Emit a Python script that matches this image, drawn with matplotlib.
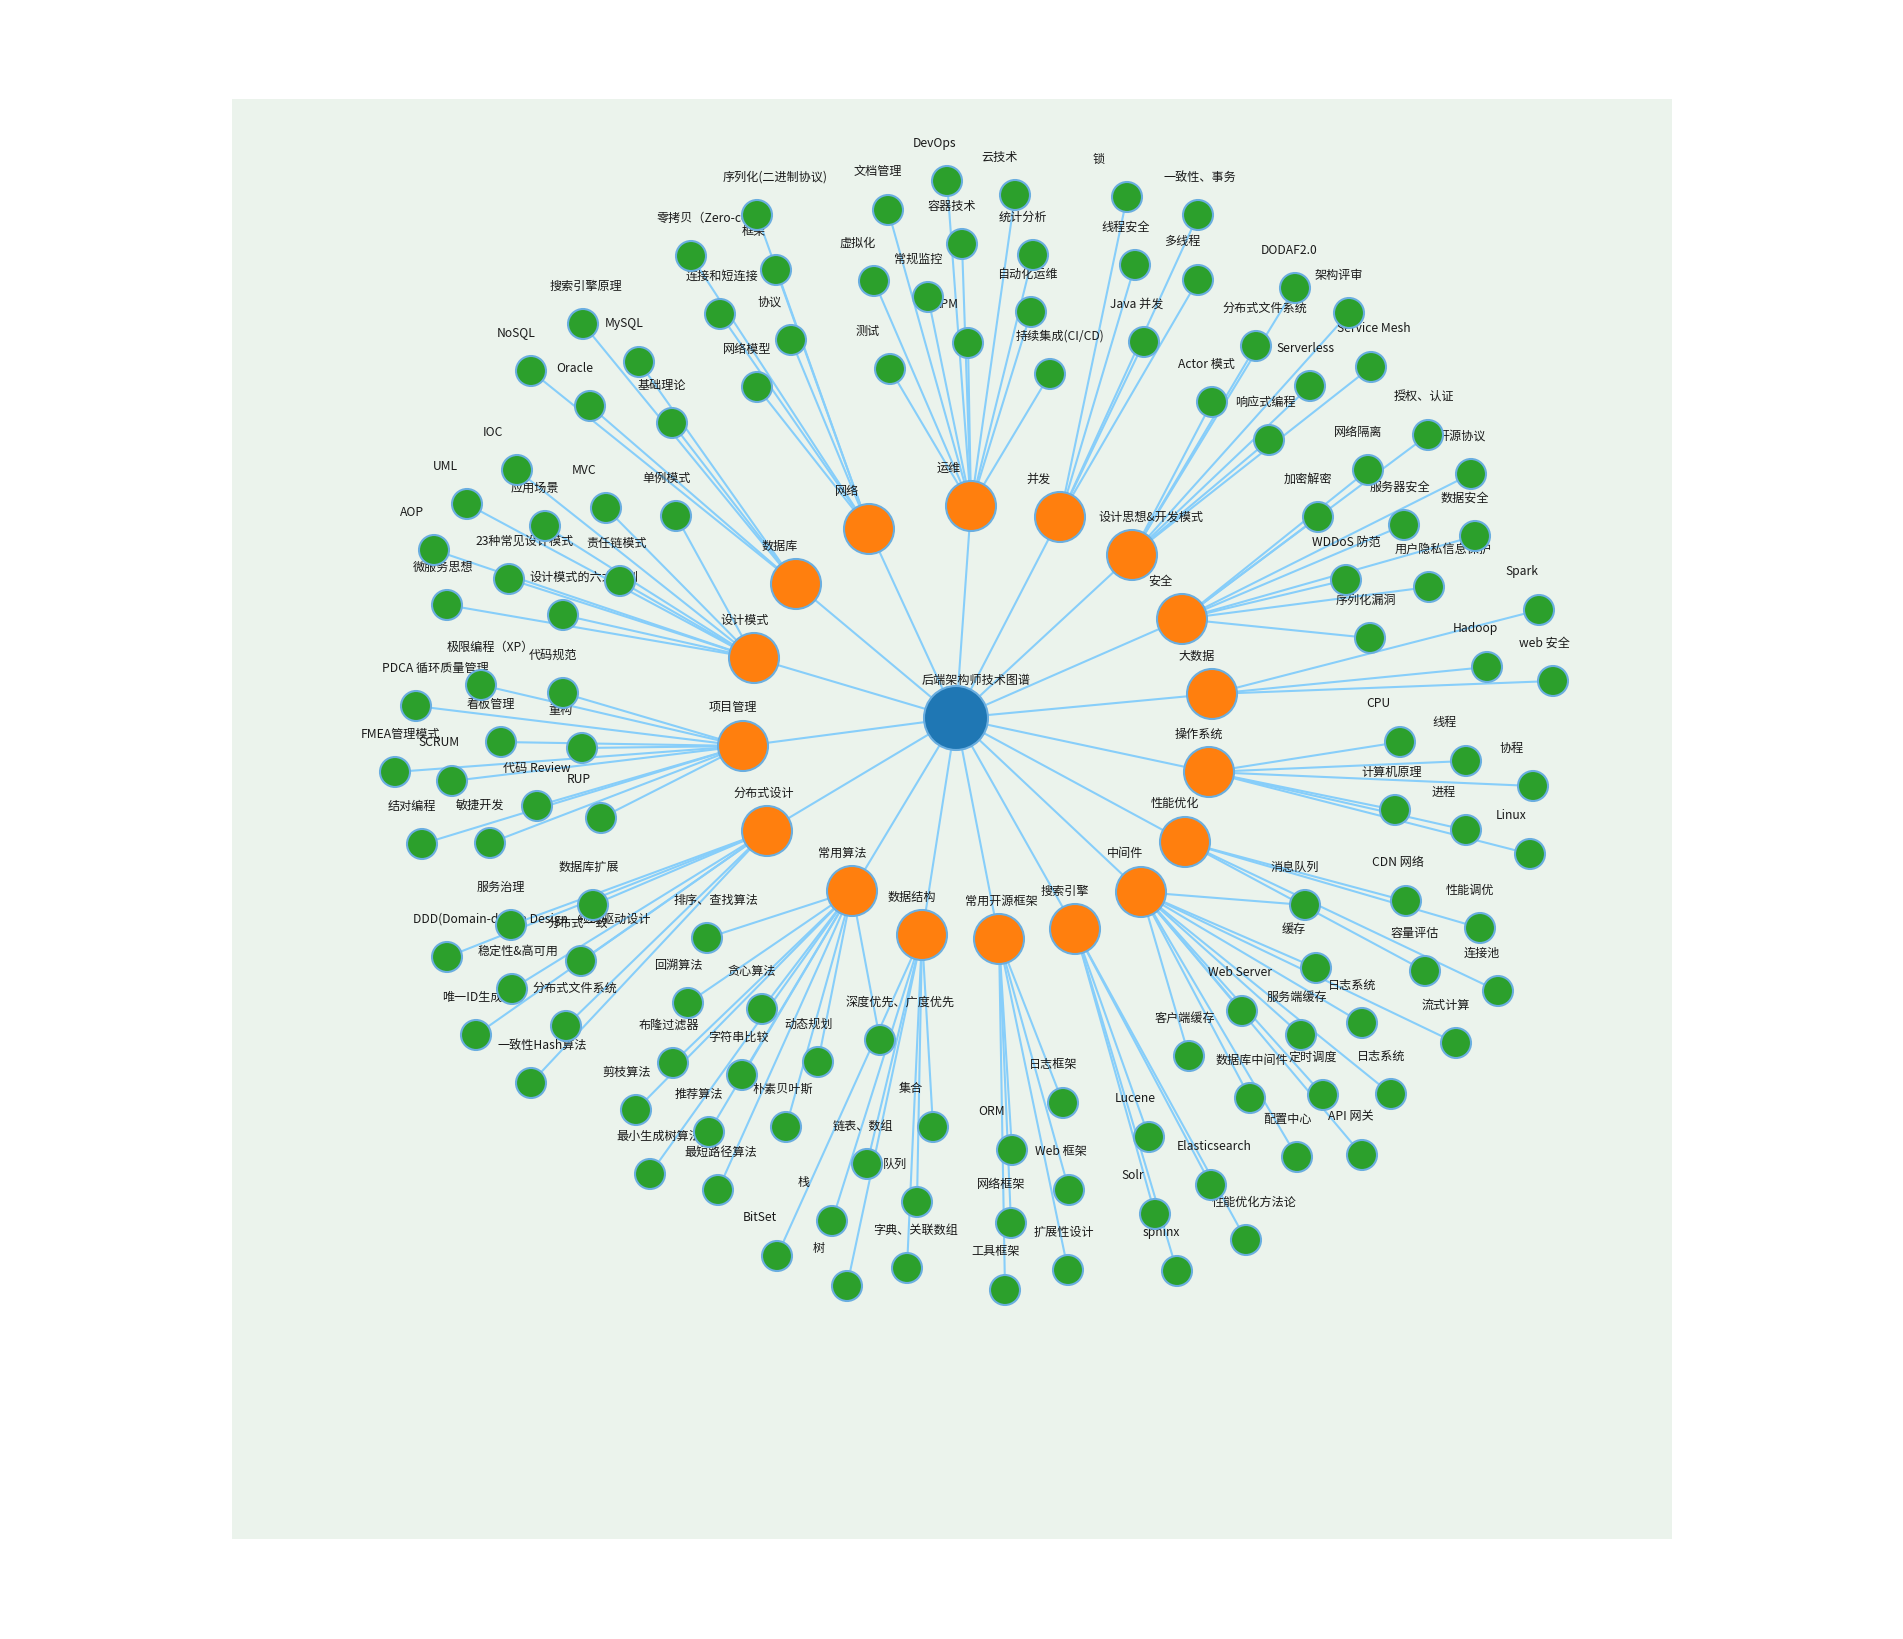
import matplotlib
matplotlib.use("Agg")
import matplotlib.pyplot as plt
from matplotlib.patches import Circle

plt.rcParams['font.family'] = ['Noto Sans CJK SC', 'DejaVu Sans']

# graph layout (pixel space of the picture)
ROOT = "后端架构师技术图谱"
ROOT_X, ROOT_Y = 956, 719

CATEGORIES = ["网络", "运维", "并发", "设计思想&开发模式", "安全", "大数据", "操作系统",
              "性能优化", "中间件", "搜索引擎", "常用开源框架", "数据结构", "常用算法",
              "分布式设计", "项目管理", "设计模式", "数据库"]
CAT_X = [869, 971, 1060, 1132, 1182, 1212, 1209, 1185, 1141, 1075, 999, 922, 852, 767, 743, 754, 796]
CAT_Y = [530, 507, 518, 556, 620, 695, 773, 843, 893, 930, 940, 936, 892, 832, 747, 659, 585]

LEAF_NAMES = [
    # 网络
    "序列化(二进制协议)", "零拷贝（Zero-copy）", "框架", "连接和短连接", "协议", "网络模型",
    # 数据库
    "搜索引擎原理", "MySQL", "NoSQL", "Oracle", "基础理论",
    # 设计模式
    "IOC", "UML", "MVC", "单例模式", "应用场景", "AOP", "23种常见设计模式", "责任链模式",
    "微服务思想", "设计模式的六大原则",
    # 项目管理
    "极限编程（XP）", "代码规范", "PDCA 循环质量管理", "看板管理", "重构", "FMEA管理模式",
    "SCRUM", "代码 Review", "RUP", "结对编程", "敏捷开发",
    # 分布式设计
    "数据库扩展", "服务治理", "DDD(Domain-driven Design - 领域驱动设计", "分布式一致",
    "稳定性&高可用", "唯一ID生成", "分布式文件系统", "一致性Hash算法",
    # 常用算法
    "排序、查找算法", "回溯算法", "贪心算法", "布隆过滤器", "字符串比较", "剪枝算法",
    "推荐算法", "朴素贝叶斯", "最小生成树算法", "最短路径算法", "动态规划", "深度优先、广度优先",
    # 数据结构
    "集合", "链表、数组", "队列", "栈", "树", "字典、关联数组", "BitSet",
    # 常用开源框架
    "日志框架", "ORM", "Web 框架", "网络框架", "扩展性设计", "工具框架",
    # 搜索引擎
    "Lucene", "Solr", "sphinx", "Elasticsearch", "性能优化方法论",
    # 中间件
    "消息队列", "缓存", "Web Server", "客户端缓存", "服务端缓存", "日志系统", "数据库中间件",
    "定时调度", "日志系统", "配置中心", "API 网关", "流式计算",
    # 性能优化
    "CDN 网络", "性能调优", "容量评估", "连接池",
    # 操作系统
    "CPU", "线程", "协程", "计算机原理", "进程", "Linux",
    # 大数据
    "Spark", "Hadoop", "web 安全",
    # 安全
    "授权、认证", "网络隔离", "开源协议", "加密解密", "服务器安全", "数据安全", "WDDoS 防范",
    "用户隐私信息保护", "序列化漏洞",
    # 设计思想&开发模式
    "DODAF2.0", "架构评审", "分布式文件系统", "Service Mesh", "Serverless", "Actor 模式", "响应式编程",
    # 并发
    "锁", "一致性、事务", "线程安全", "多线程", "Java 并发",
    # 运维
    "DevOps", "云技术", "文档管理", "容器技术", "统计分析", "虚拟化", "常规监控", "自动化运维",
    "APM", "测试", "持续集成(CI/CD)",
]
LEAF_X = [
    757, 691, 776, 720, 791, 757,
    583, 639, 531, 590, 672,
    517, 467, 606, 676, 545, 434, 509, 620, 447, 563,
    481, 563, 416, 501, 582, 395, 452, 537, 601, 422, 490,
    593, 511, 447, 581, 512, 476, 566, 531,
    707, 688, 762, 673, 742, 636, 709, 786, 650, 718, 818, 880,
    933, 867, 917, 832, 847, 907, 777,
    1063, 1012, 1069, 1011, 1068, 1005,
    1149, 1155, 1177, 1211, 1246,
    1305, 1316, 1242, 1189, 1301, 1362, 1250, 1323, 1391, 1297, 1362, 1456,
    1406, 1480, 1425, 1498,
    1400, 1466, 1533, 1395, 1466, 1530,
    1539, 1487, 1553,
    1428, 1368, 1471, 1318, 1404, 1475, 1346, 1429, 1370,
    1295, 1349, 1256, 1371, 1310, 1212, 1269,
    1127, 1198, 1135, 1198, 1144,
    947, 1015, 888, 962, 1033, 874, 928, 1031, 968, 890, 1050,
]
LEAF_Y = [
    216, 257, 271, 315, 341, 388,
    325, 363, 372, 407, 424,
    471, 505, 509, 517, 527, 551, 580, 582, 606, 616,
    686, 694, 707, 743, 749, 773, 782, 807, 819, 845, 844,
    906, 926, 958, 962, 990, 1036, 1027, 1084,
    939, 1004, 1010, 1064, 1076, 1111, 1133, 1128, 1175, 1191, 1063, 1041,
    1128, 1165, 1203, 1222, 1287, 1269, 1257,
    1104, 1151, 1191, 1224, 1271, 1291,
    1138, 1215, 1272, 1186, 1241,
    906, 969, 1012, 1057, 1036, 1024, 1099, 1096, 1095, 1158, 1156, 1044,
    902, 929, 972, 992,
    743, 762, 787, 811, 831, 855,
    611, 668, 682,
    436, 471, 475, 518, 526, 537, 581, 588, 639,
    289, 314, 347, 368, 387, 403, 441,
    198, 216, 266, 281, 343,
    182, 196, 211, 245, 256, 282, 298, 313, 344, 370, 375,
]
LEAF_PARENT = (["网络"] * 6 + ["数据库"] * 5 + ["设计模式"] * 10 + ["项目管理"] * 11
               + ["分布式设计"] * 8 + ["常用算法"] * 12 + ["数据结构"] * 7
               + ["常用开源框架"] * 6 + ["搜索引擎"] * 5 + ["中间件"] * 12
               + ["性能优化"] * 4 + ["操作系统"] * 6 + ["大数据"] * 3 + ["安全"] * 9
               + ["设计思想&开发模式"] * 7 + ["并发"] * 5 + ["运维"] * 11)

BG = "#ebf3ec"
LINK = "#87cefa"
STROKE = "#6aaee0"


def draw_node(ax, x, y, r, color):
    ax.add_patch(Circle((x, y), r, facecolor=color, edgecolor=STROKE, lw=1.5, zorder=3))


def draw_label(ax, x, y, text):
    ax.text(x - 34, y - 39, text, ha="left", va="center", fontsize=8.7,
            color="#1a1a1a", zorder=2, clip_on=False)


fig = plt.figure(figsize=(19.03, 16.40), dpi=100)
ax = fig.add_axes([232 / 1903, 100 / 1640, 1440 / 1903, 1440 / 1640])
ax.set_facecolor(BG)
ax.set_xlim(232, 1672)
ax.set_ylim(1540, 100)
ax.set_aspect("equal")
ax.axis("off")
ax.add_patch(plt.Rectangle((232, 100), 1440, 1440, facecolor=BG, edgecolor="none", zorder=0))

cat_pos = {n: (x, y) for n, x, y in zip(CATEGORIES, CAT_X, CAT_Y)}

# links
for x, y in zip(CAT_X, CAT_Y):
    ax.plot([ROOT_X, x], [ROOT_Y, y], color=LINK, lw=1.5, zorder=1, solid_capstyle="butt")
for x, y, p in zip(LEAF_X, LEAF_Y, LEAF_PARENT):
    px, py = cat_pos[p]
    ax.plot([px, x], [py, y], color=LINK, lw=1.5, zorder=1, solid_capstyle="butt")

# labels (under the circles, like the original svg)
draw_label(ax, ROOT_X, ROOT_Y, ROOT)
for n, x, y in zip(CATEGORIES, CAT_X, CAT_Y):
    draw_label(ax, x, y, n)
for n, x, y in zip(LEAF_NAMES, LEAF_X, LEAF_Y):
    draw_label(ax, x, y, n)

# nodes
for x, y in zip(LEAF_X, LEAF_Y):
    draw_node(ax, x, y, 15, "#2ca02c")
for x, y in zip(CAT_X, CAT_Y):
    draw_node(ax, x, y, 25, "#ff7f0e")
draw_node(ax, ROOT_X, ROOT_Y, 32, "#1f77b4")

fig.savefig("out.png", dpi=100, facecolor="white")
